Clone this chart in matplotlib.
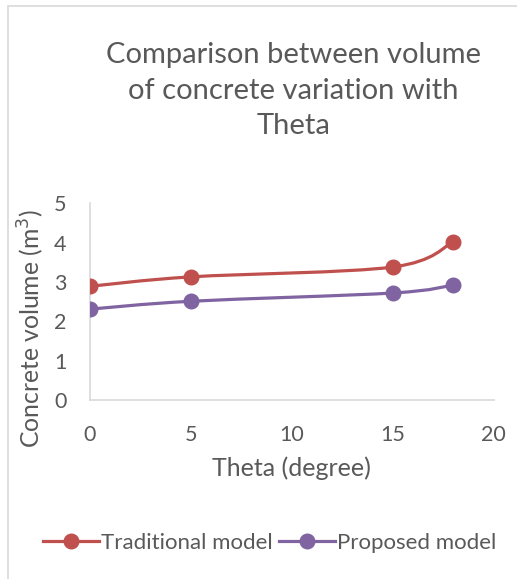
import matplotlib.pyplot as plt
from matplotlib.path import Path
from matplotlib.patches import PathPatch, Rectangle
from matplotlib.lines import Line2D
import numpy as np

theta = [0, 5, 15, 18]
traditional = [2.89, 3.13, 3.38, 4.02]
proposed = [2.31, 2.51, 2.72, 2.92]

red = '#C0504D'
purple = '#8064A2'
grey_text = '#595959'

plt.rcParams['font.family'] = ['Lato', 'DejaVu Sans']

fig = plt.figure(figsize=(5.17, 5.79), dpi=100)
ax = fig.add_axes([0.174, 0.309, 0.781, 0.340])

# light chart border like the Excel chart area
fig.patches.append(Rectangle((8 / 517, -0.1), 1.2, 1 - 6 / 579 + 0.1, transform=fig.transFigure,
                             fill=False, edgecolor='#D9D9D9', linewidth=1.2))


def smooth_path(x, y):
    # Excel-style smooth line: bezier segments with Catmull-Rom tangents
    pts = np.column_stack([x, y]).astype(float)
    n = len(pts)
    verts = [pts[0]]
    codes = [Path.MOVETO]
    for i in range(n - 1):
        p0 = pts[i - 1] if i > 0 else pts[i]
        p1 = pts[i]
        p2 = pts[i + 1]
        p3 = pts[i + 2] if i + 2 < n else pts[i + 1]
        c1 = p1 + (p2 - p0) / 6
        c2 = p2 - (p3 - p1) / 6
        verts += [c1, c2, p2]
        codes += [Path.CURVE4] * 3
    return Path(verts, codes)


for ys, col in [(traditional, red), (proposed, purple)]:
    ax.add_patch(PathPatch(smooth_path(theta, ys), facecolor='none', edgecolor=col,
                           linewidth=2.3, capstyle='round', zorder=2))
    ax.plot(theta, ys, linestyle='none', marker='o', markersize=10.5, color=col, zorder=3)

ax.set_xlim(0, 20)
ax.set_ylim(0, 5)
ax.set_xticks([0, 5, 10, 15, 20])
ax.set_yticks([0, 1, 2, 3, 4, 5])
ax.tick_params(length=0, labelsize=15.5, colors=grey_text)
ax.tick_params(axis='x', pad=18)
ax.tick_params(axis='y', pad=17)
for s in ['top', 'right']:
    ax.spines[s].set_visible(False)
for s in ['left', 'bottom']:
    ax.spines[s].set_color('#D9D9D9')
    ax.spines[s].set_linewidth(1.2)

ax.set_xlabel('Theta (degree)', fontsize=18, color=grey_text, labelpad=8)
ax.set_ylabel('Concrete volume (m$^3$)', fontsize=17.8, color=grey_text)
ax.yaxis.set_label_coords(-0.108, 0.365)

fig.text(0.567, 0.843, 'Comparison between volume\nof concrete variation with\nTheta',
         ha='center', va='center', fontsize=21, color=grey_text, linespacing=1.45)

handles = [Line2D([], [], color=red, linewidth=2.3, marker='o', markersize=10.5, label='Traditional model'),
           Line2D([], [], color=purple, linewidth=2.3, marker='o', markersize=10.5, label='Proposed model')]
fig.legend(handles=handles, loc='center', bbox_to_anchor=(0.522, 0.062), ncol=2, frameon=False,
           fontsize=16, labelcolor=grey_text, handlelength=2.5, handletextpad=0.1, columnspacing=0.3)

plt.savefig('out.png', dpi=100)
